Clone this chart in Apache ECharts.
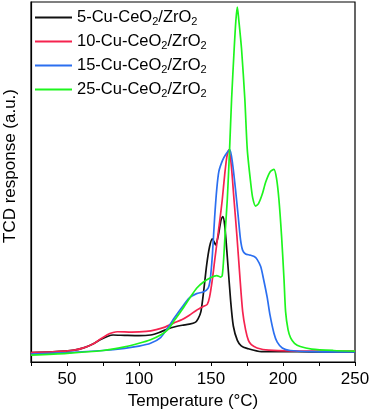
<!DOCTYPE html>
<html>
<head>
<meta charset="utf-8">
<script src="https://cdn.jsdelivr.net/npm/echarts@6/dist/echarts.min.js"></script>
<style>
html, body { margin: 0; padding: 0; background: #fff; }
#tpr { width: 370px; height: 410px; }
</style>
</head>
<body>
<div id="tpr"></div>
<script>
var seriesNames = ['5-Cu-CeO2/ZrO2', '10-Cu-CeO2/ZrO2', '15-Cu-CeO2/ZrO2', '25-Cu-CeO2/ZrO2'];
var xTicks = [50, 100, 150, 200, 250];

var tBlack = [25, 40, 55, 62, 68, 73, 78, 82, 90, 100, 108, 114, 120, 125, 130, 135, 139, 141, 143, 145, 147, 149, 150.9, 152, 153.2, 155, 157, 158.2, 159.5, 161.3, 163.6, 165.5, 168.3, 171, 175, 185, 200, 220, 250];
var vBlack = [2.6, 2.8, 3.3, 4, 5, 6.2, 7.1, 7.5, 7.4, 7.3, 7.5, 8.2, 9.2, 9.8, 10.2, 10.5, 11, 12, 14, 20, 27, 32, 34.2, 33.5, 32.5, 35, 39.5, 40.4, 38, 29.3, 17.2, 10, 6, 4.5, 3.8, 2.9, 2.9, 2.8, 2.8];

var tRed = [25, 40, 55, 62, 68, 73, 78, 82, 85, 95, 105, 112, 118, 124, 130, 135, 140, 145, 147.4, 149, 150.9, 152.5, 154.4, 156, 157.8, 159.5, 161, 162.4, 164, 166, 168, 170, 172, 174, 176, 178, 182, 190, 220, 250];
var vRed = [2.6, 2.8, 3.3, 4, 5, 6.3, 7.6, 8.2, 8.4, 8.3, 8.5, 9, 9.7, 10.8, 11.8, 13, 14.4, 15.5, 16, 18, 22.8, 28, 34, 39, 45, 52, 57, 58.9, 55, 45, 35, 24, 14, 9, 6, 4.8, 3.9, 3.3, 3.0, 3.0];

var tBlue = [25, 50, 75, 90, 100, 108, 115, 120, 125, 130, 135, 140, 145, 148, 149.5, 151, 152.5, 154, 155.5, 158, 160, 163, 165, 167, 169, 170.5, 172, 174, 177, 180, 182, 184.5, 186.5, 189, 191, 193.7, 196, 199.5, 205, 220, 250];
var vBlue = [2.2, 2.6, 3.2, 3.8, 4.4, 5.2, 6.8, 9.5, 12.5, 15.3, 17.8, 19, 19.5, 20.5, 23, 30, 40, 48, 53, 56, 57.5, 59, 55, 48, 40, 34, 31, 30, 29.7, 29.3, 28.5, 26.5, 23, 18, 13, 8, 5.5, 3.9, 3.2, 2.9, 2.8];

var tGreen = [25, 50, 75, 90, 100, 108, 115, 120, 125, 130, 135, 140, 145, 150, 154, 156.5, 157.8, 159, 160, 161.3, 162.9, 164.3, 166.1, 167.3, 168.3, 169.3, 171.2, 173.5, 175.2, 177.5, 179, 181, 183, 185.5, 188, 191, 193.7, 195.5, 197.2, 199, 200.7, 201.8, 203.5, 205.3, 208, 212, 220, 235, 250];
var vGreen = [1.9, 2.4, 3.2, 4.2, 5.2, 6.2, 7.5, 9, 11.8, 14.6, 17.6, 20.5, 22.3, 23.5, 24, 23.6, 24, 30, 37, 45, 59, 73, 87, 95, 98.6, 95, 87, 73, 59, 50, 45.5, 43.3, 44, 46.5, 50, 52.8, 53.5, 51, 45, 35, 23, 14, 9, 6.7, 5.2, 4.3, 3.6, 3.2, 3.0];

var colors = ['#111111', '#f5234f', '#2b6ff0', '#1ef51e'];

function pairs(t, v) {
    var out = [];
    for (var i = 0; i < t.length; i++) {
        out.push([t[i], v[i]]);
    }
    return out;
}

var dataList = [pairs(tBlack, vBlack), pairs(tRed, vRed), pairs(tBlue, vBlue), pairs(tGreen, vGreen)];

var series = [];
for (var i = 0; i < seriesNames.length; i++) {
    series.push({
        name: seriesNames[i],
        type: 'line',
        data: dataList[i],
        smooth: 0.25,
        symbol: 'none',
        lineStyle: { color: colors[i], width: 1.7 },
        itemStyle: { color: colors[i] }
    });
}

var myChart = echarts.init(document.getElementById('tpr'));
var option = {
    animation: false,
    textStyle: { fontFamily: 'Liberation Sans, Arial, sans-serif' },
    grid: {
        left: 31,
        right: 15,
        top: 2,
        bottom: 48,
        outerBoundsMode: 'none',
        show: true,
        borderColor: '#000',
        borderWidth: 1.2
    },
    legend: {
        orient: 'vertical',
        left: 30,
        top: 4,
        itemWidth: 37,
        itemHeight: 2,
        itemGap: 6,
        icon: 'path://M0,0 L37,0 L37,2 L0,2 Z',
        data: seriesNames,
        formatter: function (name) {
            return name.replace(/O2/g, 'O{s|2}');
        },
        textStyle: {
            fontSize: 16.5,
            color: '#000',
            rich: {
                s: { fontSize: 11, padding: [8, 0, 0, 0] }
            }
        }
    },
    xAxis: {
        type: 'value',
        min: 25,
        max: 250,
        interval: 25,
        name: 'Temperature (\u00b0C)',
        nameLocation: 'middle',
        nameGap: 26,
        nameTextStyle: { fontSize: 17, color: '#000' },
        axisLine: { lineStyle: { color: '#000', width: 1.2 } },
        axisTick: { inside: false, length: 4, lineStyle: { color: '#000' } },
        splitLine: { show: false },
        axisLabel: {
            fontSize: 17,
            color: '#000',
            margin: 9,
            formatter: function (v) {
                return xTicks.indexOf(v) >= 0 ? String(v) : '';
            }
        }
    },
    yAxis: {
        type: 'value',
        min: 0,
        max: 100,
        name: 'TCD response (a.u.)',
        nameLocation: 'middle',
        nameGap: 12,
        nameTextStyle: { fontSize: 17, color: '#000', padding: [0, 0, 0, 32] },
        axisLine: { show: true, lineStyle: { color: '#000', width: 1.2 } },
        axisTick: { show: false },
        axisLabel: { show: false },
        splitLine: { show: false }
    },
    series: series
};
myChart.setOption(option, true);
</script>
</body>
</html>
